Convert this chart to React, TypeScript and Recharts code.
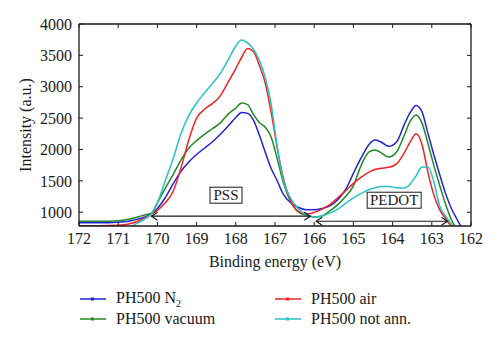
import { LineChart, Line, XAxis, YAxis, ReferenceLine, ReferenceDot } from "recharts";

const energy = [
  172, 171.5, 171, 170.7, 170.5, 170.3, 170.15, 170, 169.8, 169.6, 169.4, 169.2, 169,
  168.8, 168.6, 168.4, 168.2, 168, 167.85, 167.7, 167.55, 167.4, 167.25, 167.1, 166.95,
  166.8, 166.6, 166.4, 166.2, 166, 165.8, 165.6, 165.4, 165.2, 165, 164.8, 164.6, 164.45,
  164.3, 164.1, 163.9, 163.7, 163.55, 163.4, 163.25, 163.1, 162.95, 162.8, 162.65, 162.5,
  162.35, 162.2,
];

const n2 = [
  830, 830, 840, 860, 890, 930, 975, 1060, 1230, 1450, 1650, 1800, 1920, 2020, 2120, 2240,
  2370, 2510, 2590, 2575, 2467, 2230, 1960, 1700, 1510, 1300, 1150, 1075, 1040, 1040, 1060,
  1100, 1200, 1360, 1620, 1870, 2080, 2150, 2120, 2050, 2120, 2400, 2590, 2700, 2600, 2260,
  1920, 1600, 1300, 1060, 880, 700,
];

const vacuum = [
  856, 856, 865, 890, 925, 960, 985, 1150, 1380, 1600, 1830, 2020, 2140, 2240, 2330, 2420,
  2560, 2660, 2740, 2715, 2560, 2430, 2355, 2200, 1870, 1500, 1170, 1000, 950, 925, 940,
  1020, 1120, 1250, 1420, 1750, 1960, 1990, 1950, 1880, 1960, 2230, 2450, 2550, 2420, 2100,
  1750, 1430, 1130, 880, 720, 600,
];

const air = [
  785, 785, 790, 815, 855, 915, 970, 1030, 1150, 1330, 1700, 2150, 2500, 2640, 2730, 2850,
  3070, 3290, 3470, 3610, 3560, 3340, 3060, 2600, 2050, 1580, 1180, 1010, 975, 995, 1050,
  1120, 1230, 1340, 1460, 1560, 1640, 1680, 1700, 1715, 1770, 1950, 2120, 2250, 2080, 1640,
  1280, 1040, 900, 770, 650, 550,
];

const notAnn = [
  600, 620, 680, 760, 830, 900, 975, 1150, 1500, 1850, 2250, 2540, 2740, 2900, 3050, 3210,
  3420, 3650, 3745, 3700, 3600, 3420, 3150, 2730, 2070, 1540, 1220, 1050, 955, 925, 940,
  985, 1050, 1140, 1230, 1300, 1360, 1390, 1410, 1410, 1390, 1385, 1450, 1580, 1720, 1720,
  1490, 1100, 940, 810, 700, 600,
];

const xTicks = [172, 171, 170, 169, 168, 167, 166, 165, 164, 163, 162];
const yTicks = [1000, 1500, 2000, 2500, 3000, 3500, 4000];

const data = energy.map((e, i) => ({
  e,
  n2: n2[i],
  vacuum: vacuum[i],
  air: air[i],
  notAnn: notAnn[i],
}));

const SERIF = "'Liberation Serif', 'Times New Roman', serif";
const INK = "#1a1a1a";

const series = [
  { key: "n2", color: "#2323d6" },
  { key: "vacuum", color: "#1f8a24" },
  { key: "air", color: "#ee2424" },
  { key: "notAnn", color: "#26c2c6" },
];

const arrowShape = (props: any) => {
  const { x1, y1, x2, y2 } = props;
  return (
    <g stroke={INK} strokeWidth={1.2} fill="none">
      <line x1={x1} y1={y1} x2={x2} y2={y2} />
      <path d={`M${x1 + 6},${y1 - 4} L${x1},${y1} L${x1 + 6},${y1 + 4}`} />
      <path d={`M${x2 - 6},${y2 - 4} L${x2},${y2} L${x2 - 6},${y2 + 4}`} />
    </g>
  );
};

const boxLabel = (text: string, w: number) => (props: any) => {
  const { cx, cy } = props;
  return (
    <g>
      <rect x={cx - w / 2} y={cy - 8} width={w} height={16} fill="#fff" stroke={INK} strokeWidth={1} />
      <text x={cx} y={cy + 5} textAnchor="middle" fontSize={15} style={{ fontFamily: SERIF }} fill={INK}>
        {text}
      </text>
    </g>
  );
};

const legendItems = [
  { label: <>PH500 N<sub style={{ fontSize: 10 }}>2</sub></>, color: series[0].color, left: 80, top: 290 },
  { label: <>PH500 vacuum</>, color: series[1].color, left: 80, top: 310 },
  { label: <>PH500 air</>, color: series[2].color, left: 275, top: 290 },
  { label: <>PH500 not ann.</>, color: series[3].color, left: 275, top: 310 },
];

const tickStyle = { fontSize: 16, fill: INK, style: { fontFamily: SERIF } };
const labelStyle = { fontSize: 16, fontFamily: SERIF, fill: INK };

export default function App() {
  return (
    <div style={{ position: "absolute", left: 0, top: 0, width: 500, height: 343, background: "#fff", fontFamily: SERIF }}>
      <LineChart width={500} height={343} data={data} margin={{ top: 23, right: 28, left: 0, bottom: 67 }}>
        <XAxis
          dataKey="e"
          type="number"
          domain={[162, 172]}
          reversed
          ticks={xTicks}
          height={50}
          tickSize={-4}
          tickMargin={11}
          tick={tickStyle}
          axisLine={{ stroke: INK, strokeWidth: 1.3 }}
          tickLine={{ stroke: INK }}
          label={{ value: "Binding energy (eV)", position: "insideBottom", offset: 9, style: labelStyle }}
        />
        <XAxis
          xAxisId="top"
          dataKey="e"
          type="number"
          orientation="top"
          domain={[162, 172]}
          reversed
          ticks={xTicks}
          height={1}
          tickSize={-4}
          tickFormatter={() => ""}
          axisLine={{ stroke: INK, strokeWidth: 1.3 }}
          tickLine={{ stroke: INK }}
        />
        <YAxis
          type="number"
          domain={[780, 4000]}
          allowDataOverflow
          ticks={yTicks}
          width={79}
          tickSize={-4}
          tickMargin={11}
          tick={tickStyle}
          axisLine={{ stroke: INK, strokeWidth: 1.3 }}
          tickLine={{ stroke: INK }}
          label={{ value: "Intensity (a.u.)", angle: -90, position: "insideLeft", offset: 25, style: { ...labelStyle, textAnchor: "middle" } }}
        />
        <YAxis
          yAxisId="right"
          orientation="right"
          type="number"
          domain={[780, 4000]}
          allowDataOverflow
          ticks={yTicks}
          width={1}
          tickSize={-4}
          tickFormatter={() => ""}
          axisLine={{ stroke: INK, strokeWidth: 1.3 }}
          tickLine={{ stroke: INK }}
        />
        {series.map((s) => (
          <Line
            key={s.key}
            dataKey={s.key}
            type="monotone"
            stroke={s.color}
            strokeWidth={1.5}
            dot={false}
            isAnimationActive={false}
          />
        ))}
        <ReferenceLine segment={[{ x: 170.15, y: 936 }, { x: 166.1, y: 936 }]} shape={arrowShape} />
        <ReferenceLine segment={[{ x: 165.95, y: 856 }, { x: 162.6, y: 856 }]} shape={arrowShape} />
        <ReferenceDot x={168.25} y={1271} r={1} shape={boxLabel("PSS", 32)} />
        <ReferenceDot x={163.96} y={1191} r={1} shape={boxLabel("PEDOT", 54)} />
      </LineChart>
      {legendItems.map((it, i) => (
        <div
          key={i}
          style={{
            position: "absolute",
            left: it.left,
            top: it.top,
            height: 18,
            display: "flex",
            alignItems: "center",
            fontFamily: SERIF,
            fontSize: 16,
            color: INK,
            whiteSpace: "nowrap",
          }}
        >
          <svg width={26} height={10} style={{ marginRight: 10 }}>
            <line x1={0} y1={5} x2={26} y2={5} stroke={it.color} strokeWidth={1.5} />
            <rect x={11} y={3.5} width={3} height={3} fill={it.color} />
          </svg>
          <span>{it.label}</span>
        </div>
      ))}
    </div>
  );
}
